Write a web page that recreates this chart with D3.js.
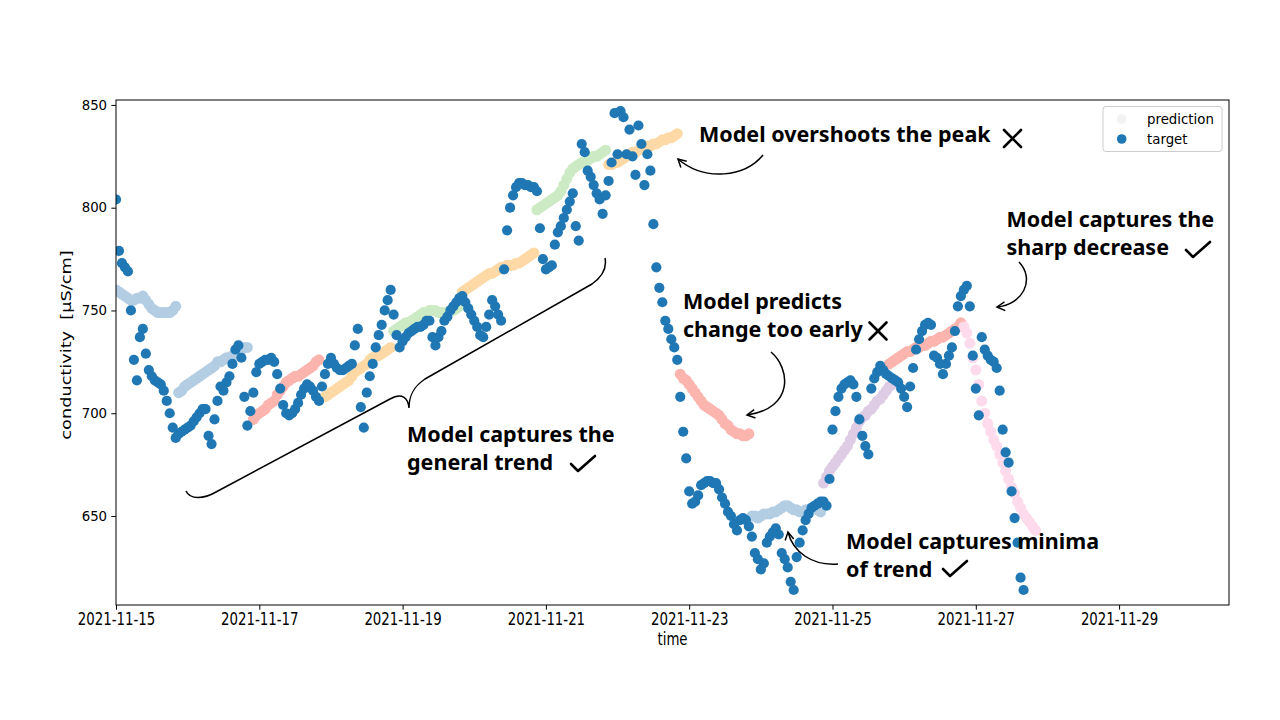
<!DOCTYPE html>
<html><head><meta charset="utf-8">
<script src="https://cdn.jsdelivr.net/npm/d3@7"></script>
<style>body{margin:0;background:#fff}svg{display:block}</style>
</head><body><svg id="c" width="1280" height="720"></svg>
<script>
// ---------- data ----------
const startDate = new Date(2021, 10, 15, 0, 0);   // first hourly sample
const xTickLabels = ["2021-11-15","2021-11-17","2021-11-19","2021-11-21","2021-11-23","2021-11-25","2021-11-27","2021-11-29"];
const yTickValues = [650, 700, 750, 800, 850];

// target conductivity, hourly from 2021-11-15 00:00
const targetValues = [
  804,779,773,771,769,750,726,716,737,741,
  729,721,718,716,715,714,711,706,700,693,
  688,690,691,692,693,694,696,698,700,702,
  702,689,685,697,706,713,711,715,718,724,
  731,733,727,708,694,701,710,720,724,725,
  726,726,727,725,719,712,704,700,699,700,
  702,705,709,712,714,713,711,708,706,713,
  719,724,727,724,722,721,721,722,723,724,
  733,741,703,693,710,718,724,732,738,743,
  750,755,760,748,738,732,735,737,739,740,
  741,742,742,743,745,745,737,733,737,740,
  745,747,750,752,754,756,757,754,751,748,
  745,742,738,737,742,748,755,752,748,745,
  770,789,800,806,810,812,812,811,811,810,
  810,808,790,775,770,771,772,782,788,791,
  795,799,803,807,791,784,831,827,818,815,
  811,807,804,797,806,813,822,846,826,847,
  844,826,838,825,816,840,831,811,826,818,
  792,771,761,754,745,741,736,732,726,708,
  691,678,662,656,657,660,665,666,667,667,
  666,666,663,659,656,652,650,646,643,648,
  649,648,645,640,632,629,624,627,637,640,
  642,644,641,632,629,625,618,614,630,637,
  643,648,651,654,655,656,657,657,655,668,
  692,701,708,712,714,715,716,714,708,697,
  689,684,680,712,717,720,723,721,719,718,
  717,716,715,712,708,703,713,722,731,736,
  740,743,744,743,728,727,724,719,724,728,
  732,740,752,757,760,762,752,728,712,699,
  737,731,728,726,725,722,711,692,681,676,
  662,649,637,620,614
];

// prediction windows (hourly values), start hour of each window and colour
const pred1  = [760,759,758,757,756,755,755,756,756,757,755,753,751,750,749,749,749,749,749,750,752];
const pred2  = [710,711,713,714,715,716,717,718,719,720,721,722,723,725,725,726,727,727,728,729,730,731,732,732];
const pred3  = [697,699,700,701,702,704,705,706,709,711,713,715,716,717,718,718,719,720,721,722,723,725,726];
const pred4  = [708,709,710,711,712,713,714,715,716,718,720,721,722,723,724,726,727,728,728,729,730,731,732];
const pred5  = [740,741,742,743,744,744,745,746,747,748,749,749,750,750,750,749,749,749,749,750,750,751,752];
const pred6  = [759,760,761,762,763,764,765,766,767,768,768,769,770,771,771,772,772,772,773,773,774,775,776,777,778];
const pred7  = [799,800,801,802,803,804,805,806,808,811,814,817,819,820,821,822,822,823,824,825,825,826,827,828];
const pred8  = [821,821,822,822,823,824,825,826,827,827,828,829,829,830,830,831,831,832,833,833,834,834,835,836];
const pred9  = [719,717,716,714,712,710,708,706,704,703,702,701,700,699,697,695,694,692,691,690,690,689,689,690];
const pred10 = [650,650,649,650,651,651,651,652,652,653,654,655,655,654,653,653,652,652,653,653,654,654,653,652];
const pred11 = [666,669,672,674,676,678,680,682,684,687,690,693,696,698,699,701,702,704,706,707,709,711,713,714,716];
const pred12 = [724,725,726,727,728,729,730,730,731,732,732,733,733,734,735,735,736,737,737,738,739,740,741,742,744];
const pred13 = [742,739,734,727,721,714,706,700,695,691,687,684,680,676,672,668,664,661,657,654,651,649,647,645,643];
const predWindows = [pred1,pred2,pred3,pred4,pred5,pred6,pred7,pred8,pred9,pred10,pred11,pred12,pred13];
const predStartHours = [0,21,46,70,93,116,141,165,189,213,237,259,284];
const predColors = ["#b3cde3","#b3cde3","#fbb4ae","#fed9a6","#ccebc5","#fed9a6","#ccebc5","#fed9a6","#fbb4ae","#b3cde3","#decbe4","#fbb4ae","#fddaec"];

// ---------- chart ----------
const HOUR = 3600 * 1000;
const svg = d3.select("#c");
const L = 116, R = 1229, T = 100, B = 605;
const parse = d3.timeParse("%Y-%m-%d");
const x = d3.scaleTime()
  .domain([startDate, new Date(+startDate + 15.534 * 24 * HOUR)])
  .range([L, R]);
const y = d3.scaleLinear().domain([606.7, 852.4]).range([B, T]);

svg.append("rect").attr("width",1280).attr("height",720).attr("fill","#fff");
svg.append("clipPath").attr("id","clip").append("rect")
  .attr("x",L).attr("y",T).attr("width",R-L).attr("height",B-T);

const plot = svg.append("g").attr("clip-path","url(#clip)");

predWindows.forEach((vals, k) => {
  const pts = vals.map((v,i) => ({t: new Date(+startDate + (predStartHours[k]+i)*HOUR), v}));
  plot.append("g").selectAll("circle").data(pts).join("circle")
    .attr("cx", d => x(d.t)).attr("cy", d => y(d.v)).attr("r", 5.5)
    .attr("fill", predColors[k]);
});

const targetPts = targetValues.map((v,i) => ({t: new Date(+startDate + i*HOUR), v}));
plot.append("g").selectAll("circle").data(targetPts).join("circle")
  .attr("cx", d => x(d.t)).attr("cy", d => y(d.v)).attr("r", 5.1)
  .attr("fill", "#1f77b4");

// axes
const tickFont = "'DejaVu Sans', sans-serif";
const xAxis = svg.append("g").attr("transform",`translate(0,${B})`)
  .call(d3.axisBottom(x).tickValues(xTickLabels.map(parse))
    .tickFormat(d3.timeFormat("%Y-%m-%d")).tickSizeOuter(0).tickSize(4.7).tickPadding(4.2));
const yAxis = svg.append("g").attr("transform",`translate(${L},0)`)
  .call(d3.axisLeft(y).tickValues(yTickValues).tickSizeOuter(0).tickSize(4.7).tickPadding(4.2));
[xAxis,yAxis].forEach(g => {
  g.select(".domain").remove();
  g.selectAll("line").attr("stroke","#000").attr("stroke-width",1);
  g.selectAll("text").attr("font-family",tickFont).attr("font-size","13.33px").attr("fill","#000");
});
// the reference's horizontal axis text is drawn slightly taller than wide
xAxis.selectAll(".tick text").attr("y",0).attr("dy",null)
  .attr("transform","translate(0,19.5) scale(1,1.28)");
svg.append("rect").attr("x",L).attr("y",T).attr("width",R-L).attr("height",B-T)
  .attr("fill","none").attr("stroke","#000").attr("stroke-width",1);

svg.append("text").attr("transform",`translate(${(L+R)/2},644.5) scale(1,1.28)`).attr("text-anchor","middle")
  .attr("font-family",tickFont).attr("font-size","13.33px").text("time");
svg.append("text").attr("transform",`translate(70.5,345) rotate(-90) scale(1.33,1)`)
  .attr("text-anchor","middle").style("white-space","pre")
  .attr("font-family",tickFont).attr("font-size","13.33px").text("conductivity  [µS/cm]");

// legend
const lg = svg.append("g");
lg.append("rect").attr("x",1103).attr("y",106.5).attr("width",119).attr("height",45).attr("rx",3)
  .attr("fill","#fff").attr("fill-opacity",0.8).attr("stroke","#cccccc");
lg.append("circle").attr("cx",1121.7).attr("cy",119).attr("r",4.8).attr("fill","#f2f2f2");
lg.append("circle").attr("cx",1121.7).attr("cy",139).attr("r",4.8).attr("fill","#1f77b4");
lg.append("text").attr("x",1147).attr("y",123.5).attr("font-family",tickFont).attr("font-size","13.33px").text("prediction");
lg.append("text").attr("x",1147).attr("y",143.5).attr("font-family",tickFont).attr("font-size","13.33px").text("target");

// annotations
const annFont = "'Noto Sans', 'Open Sans', sans-serif";
const ann = svg.append("g").attr("font-family",annFont).attr("font-weight",700).attr("font-size","21.5px").attr("fill","#000");
const lines = [
  [699,141.5,"Model overshoots the peak"],
  [683,308.5,"Model predicts"],
  [683,337,"change too early"],
  [1006.5,226.5,"Model captures the"],
  [1006.5,255,"sharp decrease"],
  [846,548.5,"Model captures minima"],
  [846,577,"of trend"],
  [407,441.5,"Model captures the"],
  [407,470,"general trend"]
];
lines.forEach(([lx,ly,t]) => ann.append("text").attr("x",lx).attr("y",ly).text(t));

const marks = svg.append("g").attr("fill","none").attr("stroke","#000").attr("stroke-width",2.6).attr("stroke-linecap","round");
function cross(cx,cy,s){ marks.append("path").attr("d",`M${cx-s},${cy-s}L${cx+s},${cy+s}M${cx+s},${cy-s}L${cx-s},${cy+s}`); }
function check(cx,cy){ marks.append("path").attr("d",`M${cx-12},${cy}L${cx-5},${cy+7}L${cx+12},${cy-8}`).attr("stroke-linejoin","round"); }
cross(1012.5,138.5,8.5);
cross(878,331,8.5);
check(1198,250);
check(583,464);
check(955,569);

const arrows = svg.append("g").attr("fill","none").attr("stroke","#000").attr("stroke-width",1.5);
function arrow(d, tip, from){
  arrows.append("path").attr("d", d);
  const a = Math.atan2(tip[1]-from[1], tip[0]-from[0]);
  const len = 9, sp = 0.5;
  const p1 = [tip[0]-len*Math.cos(a-sp), tip[1]-len*Math.sin(a-sp)];
  const p2 = [tip[0]-len*Math.cos(a+sp), tip[1]-len*Math.sin(a+sp)];
  arrows.append("path").attr("d",`M${p1}L${tip}L${p2}`);
}
arrow("M763,155C745,177 705,182 678,159",[678,159],[692,172]);
arrow("M771,352C790,368 795,408 747,415",[747,415],[760,413]);
arrow("M838,564C812,566 793,552 788,532",[788,532],[790,543]);
arrow("M1019,262C1036,280 1022,305 997,307",[997,307],[1008,306]);
// curly brace
arrows.append("path").attr("d","M186,491C190,500 204,499 216,492L390,399C402,392 408,398 409,408C409,396 413,387 425,379L592,284C602,277 607,268 605,258");
</script>
</body></html>
